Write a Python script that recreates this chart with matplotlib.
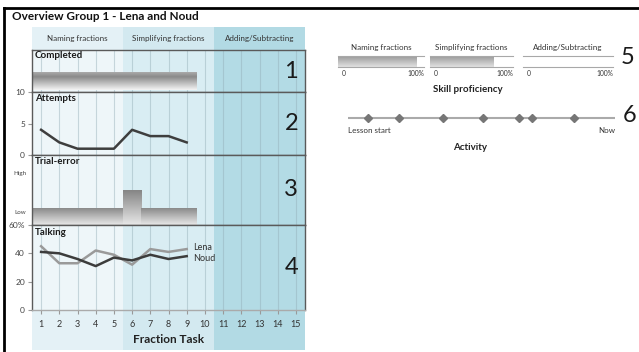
import numpy as np
import matplotlib
matplotlib.use("Agg")
import matplotlib.pyplot as plt
from matplotlib.colors import LinearSegmentedColormap
from matplotlib.lines import Line2D

plt.rcParams['font.family'] = ['Lato', 'DejaVu Sans']

# data
tasks = list(range(1, 16))
columns = ["Naming fractions", "Simplifying fractions", "Adding/Subtracting"]
column_tasks = [(1, 5), (6, 10), (11, 15)]
done_tasks = [1, 2, 3, 4, 5, 6, 7, 8, 9]
completed = [1, 1, 1, 1, 1, 1, 1, 1, 1]
attempts = [4, 2, 1, 1, 1, 4, 3, 3, 2]
trial_error = [1, 1, 1, 1, 1, 2, 1, 1, 1]
lena = [45, 33, 33, 42, 39, 32, 43, 41, 43]
noud = [41, 40, 36, 31, 37, 35, 39, 36, 38]
skill = [91, 77, 0]
activity = [7.6, 19.2, 35.7, 50.7, 64.2, 68.9, 84.5]

W, H = 639, 352
fig = plt.figure(figsize=(W / 100, H / 100), dpi=100)
fig.patch.set_facecolor("white")


def px_axes(x0, y0, x1, y1, **kw):
    return fig.add_axes([x0 / W, 1 - y1 / H, (x1 - x0) / W, (y1 - y0) / H], **kw)


def gradient_bars(ax, bars, cmap):
    grad = np.linspace(0, 1, 128).reshape(-1, 1)
    for b in bars:
        x, y, w, h = b.get_x(), b.get_y(), b.get_width(), b.get_height()
        if w <= 0 or h <= 0:
            continue
        im = ax.imshow(grad, extent=(x, x + w, y, y + h), origin="upper",
                       cmap=cmap, aspect="auto", zorder=2, interpolation="bilinear")
        im.set_clip_path(b)
        b.set_facecolor("none")


cyl = LinearSegmentedColormap.from_list("cyl", [(0, "#b2b2b2"), (0.3, "#8a8a8a"), (1, "#f4f4f4")])
fade = LinearSegmentedColormap.from_list("fade", ["#858585", "#e8e8e8"])
skillmap = LinearSegmentedColormap.from_list("skill", ["#9a9a9a", "#e2e2e2"])

panel_cols = ["#eef6f9", "#d9edf3", "#b3dbe5"]
head_cols = ["#e4f1f6", "#d3e9f0", "#b2dae4"]
edge = "#5a5a5a"


def columns_bg(ax, colors, grid=True):
    for (a, b), c in zip(column_tasks, colors):
        ax.axvspan(a - 0.5, b + 0.5, color=c, lw=0, zorder=0)
    if grid:
        for t in tasks:
            ax.axvline(t, color="#93aeb7", alpha=0.45, lw=0.8, zorder=0.5)
    ax.set_xlim(0.5, 15.5)


# header band
hd = px_axes(32, 27, 305, 50)
columns_bg(hd, head_cols, grid=False)
hd.set_ylim(0, 1)
for (a, b), name in zip(column_tasks, columns):
    hd.text((a + b) / 2, 0.5, name, ha="center", va="center", fontsize=5.8, color="#333333")
hd.axis("off")

# bottom band
bt = px_axes(32, 310, 305, 350)
columns_bg(bt, head_cols, grid=False)
bt.axis("off")

panels = [(50, 92), (92, 155), (155, 225), (225, 310)]
axs = [px_axes(32, y0, 305, y1) for y0, y1 in panels]
titles = ["Completed", "Attempts", "Trial-error", "Talking"]
for i, ax in enumerate(axs):
    columns_bg(ax, panel_cols)
    for s in ax.spines.values():
        s.set_color(edge)
        s.set_linewidth(1)
    ax.set_xticks([])
    ax.text(0.01, 0.97, titles[i], transform=ax.transAxes, ha="left", va="top",
            fontsize=7, fontweight="bold", color="#1a1a1a", zorder=5)
    ax.text(0.975, 0.5, str(i + 1), transform=ax.transAxes, ha="right", va="center",
            fontsize=17, color="#1a1a1a", zorder=5)
    ax.tick_params(axis="y", labelsize=6, colors="#999999", labelcolor="#444444",
                   length=3, width=0.8, pad=2)

# 1 completed
ax = axs[0]
bars = ax.bar(done_tasks, [0.43 * c for c in completed], width=1.0, bottom=0.05, zorder=2)
gradient_bars(ax, bars, cyl)
ax.set_xlim(0.5, 15.5)
ax.set_ylim(0, 1)
ax.set_yticks([])

# 2 attempts
ax = axs[1]
ax.plot(done_tasks, attempts, color="#3e3e3e", lw=1.8, zorder=3)
ax.set_ylim(0, 10)
ax.set_yticks([0, 5, 10])

# 3 trial-error
ax = axs[2]
bars = ax.bar(done_tasks, trial_error, width=1.0, zorder=2)
gradient_bars(ax, bars, fade)
ax.set_xlim(0.5, 15.5)
ax.set_ylim(0, 4)
ax.set_yticks([0.72, 3.0])
ax.set_yticklabels(["Low", "High"], fontsize=4.5)
ax.tick_params(axis="y", length=0, pad=4)

# 4 talking
ax = axs[3]
ax.plot(done_tasks, lena, color="#9a9a9a", lw=1.8, zorder=3)
ax.plot(done_tasks, noud, color="#3c3c3c", lw=1.8, zorder=3)
ax.annotate("Lena", (done_tasks[-1] + 0.35, lena[-1]), xytext=(0, 1.5), textcoords="offset points",
            fontsize=6.5, va="center", color="#333333", zorder=5)
ax.annotate("Noud", (done_tasks[-1] + 0.35, noud[-1]), xytext=(0, -1.5), textcoords="offset points",
            fontsize=6.5, va="center", color="#333333", zorder=5)
ax.set_ylim(0, 60)
ax.set_yticks([0, 20, 40, 60])
ax.set_yticklabels(["0", "20", "40", "60%"])
ax.set_xticks(tasks)
ax.tick_params(axis="x", labelsize=6.5, colors="#999999", labelcolor="#333333",
               length=3, width=0.8, pad=4)
ax.spines["bottom"].set_color("#aaaaaa")
ax.set_xlabel("Fraction Task", fontsize=8.5, fontweight="bold", color="#222222", labelpad=4)

# outer frame and title
fig.add_artist(Line2D([4 / W, 1], [1 - 8 / H, 1 - 8 / H], color="black", lw=2))
fig.add_artist(Line2D([4 / W, 4 / W], [0, 1 - 8 / H], color="black", lw=2))
fig.text(12 / W, 1 - 17 / H, "Overview Group 1 - Lena and Noud", fontsize=8.5,
         fontweight="bold", va="center", color="#111111")

# 5 skill proficiency
skill_px = [(338, 424), (430, 513), (523, 613)]
for (x0, x1), name, val in zip(skill_px, columns, skill):
    sa = px_axes(x0, 56, x1, 67)
    b = sa.bar([0], [1], width=[val], align="edge", zorder=2)
    gradient_bars(sa, b, skillmap)
    sa.set_xlim(0, 100)
    sa.set_ylim(0, 1)
    for k in ["left", "right"]:
        sa.spines[k].set_visible(False)
    for k in ["top", "bottom"]:
        sa.spines[k].set_color("#a8a8a8")
        sa.spines[k].set_linewidth(0.8)
    sa.set_xticks([])
    sa.set_yticks([])
    sa.set_title(name, fontsize=5.8, color="#333333", pad=4)
    sa.text(0.04, -0.25, "0", transform=sa.transAxes, fontsize=4.8, va="top", ha="left", color="#333333")
    sa.text(1.0, -0.25, "100%", transform=sa.transAxes, fontsize=4.8, va="top", ha="right", color="#333333")

fig.text(468 / W, 1 - 90 / H, "Skill proficiency", fontsize=7, fontweight="bold",
         ha="center", va="center", color="#222222")
fig.text(628 / W, 1 - 57 / H, "5", fontsize=17, ha="center", va="center", color="#1a1a1a")

# 6 activity
aa = px_axes(348, 108, 615, 128)
aa.axhline(0, color="#aaaaaa", lw=1.5, zorder=1)
aa.plot(activity, [0] * len(activity), ls="none", marker="D", ms=4.5, color="#767676", zorder=2)
aa.set_xlim(0, 100)
aa.set_ylim(-1, 1)
aa.axis("off")
fig.text(348 / W, 1 - 131 / H, "Lesson start", fontsize=5.8, ha="left", va="center", color="#333333")
fig.text(615 / W, 1 - 131 / H, "Now", fontsize=5.8, ha="right", va="center", color="#333333")
fig.text(470 / W, 1 - 147 / H, "Activity", fontsize=7, fontweight="bold",
         ha="center", va="center", color="#222222")
fig.text(630 / W, 1 - 115 / H, "6", fontsize=17, ha="center", va="center", color="#1a1a1a")

fig.savefig("out.png", dpi=100)
